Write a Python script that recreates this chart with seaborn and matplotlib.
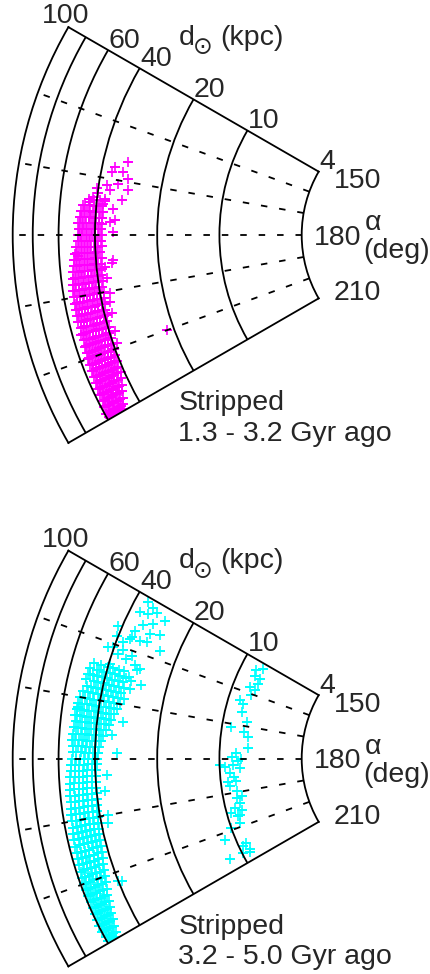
import numpy as np
import pandas as pd
import matplotlib
matplotlib.use('Agg')
import matplotlib.pyplot as plt
from matplotlib.ticker import NullLocator
import seaborn as sns

sns.set_style('white')
plt.rcParams['font.family'] = ['Liberation Sans', 'DejaVu Sans']

# %%
# axes values
r_grid = [10, 20, 40, 60, 80]
r_labels = {100: '100', 60: '60', 40: '40', 20: '20', 10: '10', 4: '4'}
alpha_grid = [160, 170, 180, 190, 200]
alpha_labels = {150: '150', 180: '180', 210: '210'}
captions = [['Stripped', '1.3 - 3.2 Gyr ago'],
            ['Stripped', '3.2 - 5.0 Gyr ago']]
colors = ['#ff00ff', '#00ffff']

# %%
# 1.3 - 3.2 Gyr: dense band, alpha (deg) -> d (kpc)
band_old = {
    174: [36.5, 38.8, 41.5, 43.6],
    175: [37.4, 39.2, 41.0, 43.2, 45.5, 46.6],
    176: [36.8, 38.1, 39.7, 41.2, 42.6, 44.1, 45.7, 47.0],
    177: [37.3, 38.6, 40.1, 41.8, 43.2, 44.7, 46.3, 47.6],
    178: [36.9, 38.3, 39.8, 41.1, 42.7, 44.2, 45.8, 47.3, 48.2],
    179: [37.5, 38.9, 40.4, 41.9, 43.5, 45.0, 46.5, 47.9],
    180: [37.0, 38.4, 39.9, 41.4, 42.9, 44.4, 46.0, 47.5, 48.5],
    181: [37.6, 39.0, 40.6, 42.1, 43.7, 45.3, 46.9, 48.6],
    182: [37.2, 38.7, 40.2, 41.7, 43.2, 44.8, 46.4, 48.0, 49.6],
    183: [37.8, 39.3, 40.8, 42.4, 44.0, 45.6, 47.2, 48.9, 50.2],
    184: [37.4, 38.9, 40.4, 41.9, 43.5, 45.1, 46.8, 48.5, 50.1, 51.0],
    185: [38.0, 39.5, 41.1, 42.7, 44.3, 46.0, 47.7, 49.4, 51.2],
    186: [37.7, 39.2, 40.8, 42.3, 43.9, 45.6, 47.3, 49.0, 50.7, 52.0],
    187: [38.3, 39.8, 41.4, 43.0, 44.7, 46.4, 48.1, 49.9, 51.7, 52.6],
    188: [37.9, 39.5, 41.0, 42.6, 44.3, 46.0, 47.7, 49.5, 51.3, 53.0],
    189: [38.5, 40.1, 41.7, 43.3, 45.0, 46.7, 48.5, 50.3, 52.2, 53.4],
    190: [38.2, 39.8, 41.4, 43.0, 44.6, 46.3, 48.1, 49.9, 51.7, 53.5],
    191: [38.8, 40.4, 42.0, 43.7, 45.4, 47.1, 48.9, 50.7, 52.6, 53.9],
    192: [38.6, 40.2, 41.8, 43.4, 45.1, 46.8, 48.6, 50.4, 52.3, 54.0],
    193: [39.3, 40.9, 42.5, 44.2, 45.9, 47.6, 49.4, 51.2, 53.1, 54.3],
    194: [39.0, 40.6, 42.2, 43.9, 45.6, 47.3, 49.1, 50.9, 52.8, 54.2],
    195: [39.7, 41.3, 42.9, 44.6, 46.3, 48.0, 49.8, 51.7, 53.6],
    196: [39.5, 41.1, 42.7, 44.4, 46.1, 47.8, 49.6, 51.4, 53.2, 54.4],
    197: [40.2, 41.8, 43.4, 45.1, 46.8, 48.6, 50.4, 52.2, 54.1],
    198: [40.0, 41.6, 43.2, 44.9, 46.6, 48.3, 50.1, 51.9, 53.7, 54.6],
    199: [40.7, 42.3, 43.9, 45.6, 47.3, 49.1, 50.9, 52.7, 54.5],
    200: [40.5, 42.1, 43.7, 45.4, 47.1, 48.8, 50.6, 52.4, 54.2, 55.0],
    201: [41.2, 42.8, 44.5, 46.2, 47.9, 49.7, 51.5, 53.3, 55.1],
    202: [41.0, 42.6, 44.3, 46.0, 47.7, 49.4, 51.2, 53.0, 54.8, 55.6],
    203: [41.8, 43.4, 45.1, 46.8, 48.5, 50.3, 52.1, 53.9, 55.7],
    204: [41.6, 43.2, 44.9, 46.6, 48.3, 50.1, 51.9, 53.7, 55.5, 56.2],
    205: [42.8, 44.5, 46.2, 47.9, 49.7, 51.5, 53.3, 55.1, 56.7],
    206: [43.6, 45.2, 46.9, 48.6, 50.4, 52.2, 54.0, 55.8, 57.2],
    207: [45.0, 46.6, 48.3, 50.0, 51.8, 53.6, 55.4, 57.2],
    208: [46.2, 47.8, 49.5, 51.2, 53.0, 54.8, 56.6, 58.3],
    209: [47.5, 49.1, 50.8, 52.6, 54.4, 56.2, 58.0, 59.3],
    209.7: [48.5, 50.5, 52.4, 54.5, 56.5, 58.5],
}
# scattered stars (alpha, d)
loose_old = [
    (166.3, 30.4), (167.8, 34.7), (168.8, 35.6), (168.3, 31.4), (169.4, 29.3),
    (170.6, 32.4), (171.4, 28.7), (171.2, 36.6), (172.0, 40.7), (172.0, 35.0),
    (173.5, 30.3), (173.6, 36.6), (174.4, 43.0), (175.2, 33.0), (177.3, 32.1),
    (179.4, 32.6), (184.5, 33.0), (183.5, 48.5), (191.8, 36.5), (193.8, 36.9),
    (197.1, 37.6), (199.1, 38.5), (200.0, 21.7), (177.6, 33.9), (174.5, 37.1),
    (185.1, 33.5), (185.6, 36.4), (187.6, 36.3), (173.5, 41.7), (172.8, 39.8),
    (190.3, 35.8),
]

# 3.2 - 5.0 Gyr: dense band
band_young = {
    164: [33.0, 35.2, 37.6, 40.1, 43.5, 46.8],
    165: [31.8, 34.0, 36.4, 38.5, 41.0, 43.3, 48.5],
    166: [32.5, 34.6, 36.8, 39.0, 41.5, 44.0, 46.0],
    167: [31.5, 33.4, 35.5, 37.7, 40.0, 42.4, 44.8, 49.0],
    168: [32.2, 34.2, 36.2, 38.4, 40.7, 43.1, 45.6, 47.8],
    169: [31.0, 33.0, 35.0, 37.1, 39.3, 41.6, 44.0, 46.5, 49.2],
    170: [32.0, 34.0, 36.0, 38.1, 40.3, 42.6, 45.0, 47.5, 50.0],
    171: [32.8, 34.8, 36.9, 39.0, 41.2, 43.5, 45.9, 48.4, 50.6],
    172: [33.6, 35.6, 37.7, 39.9, 42.1, 44.4, 46.8, 49.3, 51.0],
    173: [34.3, 36.3, 38.4, 40.6, 42.9, 45.2, 47.6, 50.1, 51.4],
    174: [35.0, 37.0, 39.1, 41.3, 43.6, 45.9, 48.3, 50.6],
    175: [36.0, 38.0, 40.0, 42.2, 44.4, 46.7, 49.0, 51.3],
    176: [36.8, 38.8, 40.9, 43.0, 45.2, 47.4, 49.7, 51.6],
    177: [37.6, 39.6, 41.6, 43.7, 45.9, 48.1, 50.4, 52.0],
    178: [38.2, 40.2, 42.2, 44.3, 46.5, 48.7, 51.0],
    179: [38.7, 40.7, 42.7, 44.8, 47.0, 49.2, 51.4],
    180: [39.0, 41.0, 43.0, 45.1, 47.3, 49.5, 51.7],
    181: [39.3, 41.3, 43.3, 45.4, 47.6, 49.8, 52.1],
    182: [39.5, 41.5, 43.6, 45.7, 47.9, 50.2, 52.5],
    183: [39.7, 41.7, 43.8, 46.0, 48.2, 50.5, 52.9],
    184: [39.8, 41.9, 44.0, 46.2, 48.5, 50.8, 53.2],
    185: [40.0, 42.1, 44.2, 46.4, 48.7, 51.1, 53.5],
    186: [40.1, 42.2, 44.4, 46.6, 48.9, 51.3, 53.8],
    187: [40.3, 42.4, 44.6, 46.8, 49.1, 51.5, 54.0],
    188: [40.6, 42.7, 44.9, 47.1, 49.4, 51.8, 54.3],
    189: [40.9, 43.0, 45.2, 47.4, 49.7, 52.1, 54.6],
    190: [41.1, 43.2, 45.4, 47.6, 49.9, 52.3, 54.8],
    191: [41.3, 43.4, 45.6, 47.9, 50.2, 52.6, 55.1],
    192: [41.6, 43.7, 45.9, 48.2, 50.5, 52.9, 55.5],
    193: [41.9, 44.0, 46.2, 48.5, 50.8, 53.2, 55.8],
    194: [42.2, 44.3, 46.5, 48.8, 51.1, 53.5, 56.1],
    195: [42.5, 44.6, 46.8, 49.1, 51.4, 53.8, 56.4],
    196: [42.9, 45.0, 47.2, 49.5, 51.8, 54.2, 56.7],
    197: [43.4, 45.5, 47.7, 50.0, 52.3, 54.7, 57.0],
    198: [44.0, 46.1, 48.3, 50.6, 52.9, 55.2, 57.3],
    199: [44.6, 46.7, 48.9, 51.1, 53.4, 55.7, 57.6],
    200: [45.3, 47.4, 49.5, 51.7, 53.9, 56.2, 57.9],
    201: [45.9, 48.0, 50.1, 52.3, 54.5, 56.7, 58.1],
    202: [46.6, 48.6, 50.7, 52.8, 55.0, 57.1, 58.3],
    203: [47.4, 49.4, 51.4, 53.5, 55.6, 57.6],
    204: [48.2, 50.1, 52.1, 54.1, 56.2, 58.3],
    205: [49.0, 50.9, 52.8, 54.8, 56.8, 58.8],
    206: [49.8, 51.6, 53.5, 55.4, 57.4, 59.3],
    207: [50.6, 52.4, 54.2, 56.1, 58.0, 59.8],
    208: [51.3, 53.1, 54.9, 56.8, 58.7, 60.2],
    209: [52.2, 54.0, 55.8, 57.6, 59.4],
    209.7: [53.5, 55.5, 57.5, 59.5],
}
loose_young = [
    (150.9, 34.8), (151.3, 32.2), (153.1, 35.8), (152.7, 32.7), (151.8, 30.3),
    (152.4, 26.8), (154.0, 29.6), (155.0, 32.5), (156.5, 34.5), (155.9, 29.2),
    (155.4, 26.2), (158.2, 35.1), (157.8, 31.4), (157.6, 29.1), (158.1, 24.5),
    (156.8, 41.8), (158.5, 40.8), (160.8, 42.6), (160.5, 35.9), (160.9, 32.2),
    (162.7, 28.2), (165.3, 29.8), (166.8, 29.6), (165.9, 47.5), (165.1, 44.6),
    (166.0, 48.4), (171.6, 50.2), (173.2, 29.9), (175.8, 33.5), (179.0, 31.4),
    (182.9, 35.3), (185.8, 36.5), (190.0, 36.5), (191.4, 37.0), (201.6, 40.1),
    (201.8, 38.7), (160.5, 40.4), (161.4, 37.3), (161.7, 33.7), (163.4, 39.4),
    (162.4, 30.2), (163.1, 28.9), (164.8, 30.9), (165.7, 26.4), (159.2, 37.1),
    (157.8, 34.6),
]
# inner clump near 10 kpc
clump_young = [
    (151.6, 7.9), (152.9, 8.4), (154.5, 8.3), (154.7, 7.8), (156.4, 7.7),
    (158.2, 8.3), (158.6, 7.8), (160.4, 7.9), (162.9, 8.8), (163.5, 8.4),
    (166.0, 8.3), (168.6, 7.7), (170.9, 9.0), (171.8, 7.8), (173.2, 7.4),
    (176.8, 7.3), (178.5, 8.3), (179.5, 8.7), (180.0, 7.9), (181.8, 9.9),
    (182.3, 9.4), (181.9, 8.6), (183.0, 8.0), (184.2, 8.9), (186.6, 9.2),
    (186.8, 8.4), (188.0, 9.1), (189.7, 8.5), (191.6, 8.6), (193.3, 8.4),
    (194.3, 9.0), (195.3, 8.4), (195.4, 9.5), (196.6, 8.7), (198.8, 9.0),
    (199.4, 10.0), (201.7, 11.2), (204.8, 9.1), (206.9, 9.1), (206.9, 9.9),
    (206.9, 11.6), (180.9, 8.1), (185.3, 8.6), (191.5, 8.1), (196.9, 8.9),
    (205.3, 9.6), (207.8, 9.2),
]


def to_frame(rows, *extras):
    alpha = [a for a, ds in rows.items() for _ in ds]
    d = [x for ds in rows.values() for x in ds]
    for extra in extras:
        alpha += [p[0] for p in extra]
        d += [p[1] for p in extra]
    df = pd.DataFrame({'alpha': alpha, 'd': d})
    df['theta'] = np.deg2rad(df['alpha'])
    return df


panels = [to_frame(band_old, loose_old),
          to_frame(band_young, loose_young, clump_young)]

# %%
W, H = 431, 974
fig = plt.figure(figsize=(W / 100, H / 100), dpi=100)

centers = [235, 758.5]      # wedge centre line, pixels from top
x_outer, x_inner = 12.7, 301.7   # where the 100 and 4 kpc arcs cross 180 deg
half = 207.6
lw = 1.3
dash = (0, (3.6, 6.6))


def fpx(x, y):
    return x / W, 1 - y / H


axes = []
for df, col, cap, cy in zip(panels, colors, captions, centers):
    rect = [(165.5 - half) / W, (H - cy - half) / H, 2 * half / W, 2 * half / H]
    ax = fig.add_axes(rect, projection='polar')
    axes.append((ax, rect, cy))

    sns.scatterplot(data=df, x='theta', y='d', ax=ax, marker='+',
                    color=col, s=52, linewidth=1.2, legend=False)

    ax.set_thetamin(150)
    ax.set_thetamax(210)
    ax.set_rscale('log')
    ax.set_rlim(4, 100)
    ax.set_rorigin(0.975)

    ax.set_xticks(np.deg2rad(alpha_grid))
    ax.set_xticklabels([])
    ax.set_yticks(r_grid)
    ax.set_yticklabels([])
    ax.yaxis.set_minor_locator(NullLocator())
    ax.tick_params(length=0)
    ax.set_axisbelow(False)
    ax.xaxis.grid(True, color='k', lw=lw, ls=dash)
    ax.yaxis.grid(True, color='k', lw=lw, ls='-')
    ax.set_xlabel('')
    ax.set_ylabel('')
    for sp in ax.spines.values():
        sp.set_linewidth(lw)
        sp.set_color('k')

    # distance labels along the 150 deg edge
    for r, lab in r_labels.items():
        if r == 100:
            ax.annotate(lab, xy=(np.deg2rad(150), r), xytext=(-2.5, 4),
                        textcoords='offset pixels', ha='center', va='baseline',
                        fontsize=20.5, annotation_clip=False)
        else:
            ax.annotate(lab, xy=(np.deg2rad(150), r), xytext=(0.5, 2.5),
                        textcoords='offset pixels', ha='left', va='baseline',
                        fontsize=20.5, annotation_clip=False)

    # angle labels next to the inner arc
    a_off = {150: (15.5, -16.5), 180: (12, -10), 210: (15, -2)}
    for a, lab in alpha_labels.items():
        ax.annotate(lab, xy=(np.deg2rad(a), 4), xytext=a_off[a],
                    textcoords='offset pixels', ha='left', va='baseline',
                    fontsize=20.5, annotation_clip=False)
    ax.annotate('\u03b1', xy=(np.deg2rad(180), 4), xytext=(63.5, 5),
                textcoords='offset pixels', ha='left', va='baseline',
                fontsize=20.5, annotation_clip=False)
    ax.annotate('(deg)', xy=(np.deg2rad(180), 4), xytext=(62, -23),
                textcoords='offset pixels', ha='left', va='baseline',
                fontsize=20.5, annotation_clip=False)

    off = cy - centers[0]
    fig.text(*fpx(178.3, 45 + off), 'd', fontsize=20.5, ha='left', va='baseline')
    fig.text(*fpx(203, 47.5 + off), '\u2299', fontsize=17, ha='center',
             va='center', family='DejaVu Sans')
    fig.text(*fpx(220, 45 + off), '(kpc)', fontsize=20.5, ha='left', va='baseline')

    fig.text(*fpx(178.3, 410 + off), cap[0], fontsize=20.5, ha='left', va='baseline')
    fig.text(*fpx(178.3, 440.7 + off), cap[1], fontsize=20.5, ha='left', va='baseline')

# place each wedge so that its arcs land where the reference has them
fig.canvas.draw()
for ax, rect, cy in axes:
    x0, y0, s = rect[0] * W, rect[1] * H, rect[2] * W
    p_out = ax.transData.transform((np.pi, 100))
    p_in = ax.transData.transform((np.pi, 4))
    u_out = (p_out - [x0, y0]) / s
    u_in = (p_in - [x0, y0]) / s
    s_new = (x_inner - x_outer) / (u_in[0] - u_out[0])
    x_new = x_outer - s_new * u_out[0]
    y_new = (H - cy) - s_new * u_out[1]
    ax.set_position([x_new / W, y_new / H, s_new / W, s_new / H])

fig.savefig('out.png', dpi=100)
